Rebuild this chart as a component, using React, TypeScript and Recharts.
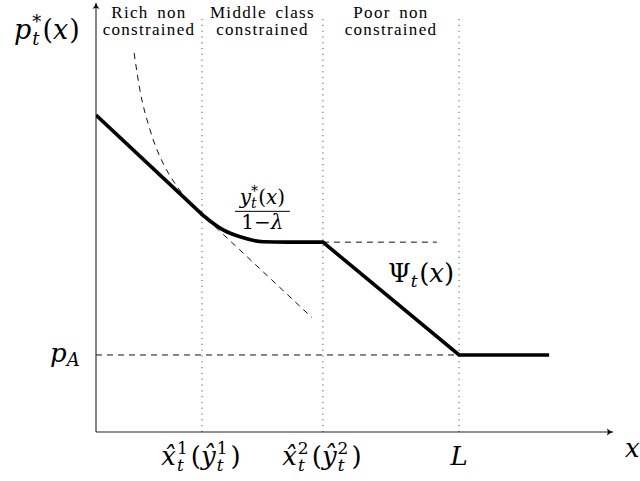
import {
  ComposedChart,
  Line,
  XAxis,
  YAxis,
  ReferenceLine,
  ReferenceDot,
} from 'recharts';

// key abscissas (L normalised to 10) and the autarky price
const x1 = 2.92;
const x2 = 6.25;
const L = 10;
const pA = 2;
const xMax = 14.24;
const yMax = 11.14;
const topOfDots = 10.83;

const richX = [0, 2.92];
const richY = [8.23, 5.65];
const midX = [2.92, 3.14, 3.5, 3.97, 4.6, 5.26, 6.25];
const midY = [5.65, 5.48, 5.25, 5.07, 4.94, 4.93, 4.93];
const poorX = [6.25, 10, 12.48];
const poorY = [4.93, 2, 2];

// dashed y*_t(x)/(1-lambda) branch above the rich segment
const demandX = [1.05, 1.21, 1.49, 1.9, 2.15, 2.59, 2.92];
const demandY = [9.84, 8.88, 7.84, 6.88, 6.49, 5.95, 5.65];

// dashed continuation of the rich segment
const tangentX = [3.28, 5.95];
const tangentY = [5.33, 2.97];

// dashed flat level continued from x2
const flatX = [x2, 9.39];

// where the two math labels sit
const fracAt = { x: 4.57, y: 5.73 };
const psiAt = { x: L, y: 3.9 };

const regionTop = ['Rich non', 'Middle class', 'Poor non'];
const regionBottom = ['constrained', 'constrained', 'constrained'];
const regionBounds = [0, x1, x2, L];

const zip = (xs: number[], ys: number[]) => xs.map((x, i) => ({ x, y: ys[i] }));

const MATH = '"DejaVu Serif", serif';
const ROMAN = '"Liberation Serif", serif';
const BIG = 26;
const SMALL = 17;

function XTick(props: any) {
  const { x, y, payload } = props;
  const v = payload.value;
  if (v === L) {
    return (
      <text x={x} y={y + 33} fontSize={BIG} fontFamily={MATH} fontStyle="italic" textAnchor="middle">
        L
      </text>
    );
  }
  const n = v === x1 ? '1' : '2';
  return (
    <text x={x - 1} y={y + 33} fontSize={BIG} fontFamily={MATH} textAnchor="middle">
      <tspan fontStyle="italic">x̂</tspan>
      <tspan fontSize={SMALL} dx={1} dy={-11}>{n}</tspan>
      <tspan fontSize={SMALL} fontStyle="italic" dx={-10.8} dy={17}>t</tspan>
      <tspan dx={7} dy={-6}>(</tspan>
      <tspan fontStyle="italic">ŷ</tspan>
      <tspan fontSize={SMALL} dx={1} dy={-11}>{n}</tspan>
      <tspan fontSize={SMALL} fontStyle="italic" dx={-10.8} dy={17}>t</tspan>
      <tspan dx={7} dy={-6}>)</tspan>
    </text>
  );
}

function YTick(props: any) {
  const { x, y } = props;
  return (
    <text x={x - 46} y={y + 7} fontSize={BIG} fontFamily={MATH}>
      <tspan fontStyle="italic">p</tspan>
      <tspan fontSize={18} fontStyle="italic" dy={4}>A</tspan>
    </text>
  );
}

function Arrow({ cx, cy, up }: { cx: number; cy: number; up?: boolean }) {
  const d = `M-6,-3.6 Q-2.5,-0.8 0,0 Q-2.5,0.8 -6,3.6 Q-4.2,0 -6,-3.6 Z`;
  return <path d={d} transform={`translate(${cx},${cy}) rotate(${up ? -90 : 0})`} fill="#111" />;
}

const dashed = { stroke: '#111', strokeWidth: 1, strokeDasharray: '6 5' };

export default function App() {
  return (
    <div style={{ position: 'absolute', left: 0, top: 0, background: '#fff' }}>
      <ComposedChart width={640} height={481} margin={{ top: 3, right: 27, left: 0, bottom: 0 }}>
        <XAxis
          type="number"
          dataKey="x"
          domain={[0, xMax]}
          ticks={[x1, x2, L]}
          interval={0}
          allowDataOverflow
          axisLine={false}
          tickLine={false}
          tickSize={0}
          tickMargin={0}
          height={49}
          tick={<XTick />}
        />
        <YAxis
          type="number"
          domain={[0, yMax]}
          ticks={[pA]}
          allowDataOverflow
          axisLine={false}
          tickLine={false}
          tickSize={0}
          tickMargin={0}
          width={96}
          tick={<YTick />}
        />

        {[x1, x2, L].map((v) => (
          <ReferenceLine
            key={v}
            segment={[{ x: v, y: 0 }, { x: v, y: topOfDots }]}
            stroke="#555"
            strokeWidth={1}
            strokeDasharray="1.2 4.6"
            ifOverflow="visible"
          />
        ))}
        <ReferenceLine segment={[{ x: 0, y: pA }, { x: L, y: pA }]} {...dashed} ifOverflow="visible" />
        <ReferenceLine
          segment={[{ x: flatX[0], y: poorY[0] }, { x: flatX[1], y: poorY[0] }]}
          {...dashed}
          ifOverflow="visible"
        />
        <ReferenceLine segment={[{ x: 0, y: 0 }, { x: xMax, y: 0 }]} stroke="#222" strokeWidth={1.1} ifOverflow="visible" />
        <ReferenceLine segment={[{ x: 0, y: 0 }, { x: 0, y: yMax }]} stroke="#222" strokeWidth={1.1} ifOverflow="visible" />

        <Line
          data={zip(demandX, demandY)}
          dataKey="y"
          type="monotone"
          {...dashed}
          dot={false}
          activeDot={false}
          isAnimationActive={false}
        />
        <Line
          data={zip(tangentX, tangentY)}
          dataKey="y"
          type="linear"
          {...dashed}
          dot={false}
          activeDot={false}
          isAnimationActive={false}
        />
        <Line
          data={zip(richX, richY)}
          dataKey="y"
          type="linear"
          stroke="#000"
          strokeWidth={3.6}
          dot={false}
          activeDot={false}
          isAnimationActive={false}
        />
        <Line
          data={zip(midX, midY)}
          dataKey="y"
          type="monotone"
          stroke="#000"
          strokeWidth={3.6}
          strokeLinecap="round"
          dot={false}
          activeDot={false}
          isAnimationActive={false}
        />
        <Line
          data={zip(poorX, poorY)}
          dataKey="y"
          type="linear"
          stroke="#000"
          strokeWidth={3.6}
          dot={false}
          activeDot={false}
          isAnimationActive={false}
        />

        <ReferenceDot x={xMax} y={0} r={0} ifOverflow="visible" shape={(p: any) => <Arrow cx={p.cx} cy={p.cy} />} />
        <ReferenceDot x={0} y={yMax} r={0} ifOverflow="visible" shape={(p: any) => <Arrow cx={p.cx} cy={p.cy} up />} />

        {/* axis names */}
        <ReferenceDot
          x={0}
          y={yMax}
          r={0}
          ifOverflow="visible"
          shape={(p: any) => (
            <text x={p.cx - 82} y={p.cy + 36} fontSize={27} fontFamily={MATH}>
              <tspan fontStyle="italic">p</tspan>
              <tspan fontSize={18} dx={1} dy={-11}>*</tspan>
              <tspan fontSize={18} fontStyle="italic" dx={-9} dy={17}>t</tspan>
              <tspan dx={3} dy={-6}>(</tspan>
              <tspan fontStyle="italic">x</tspan>
              <tspan dx={1}>)</tspan>
            </text>
          )}
        />
        <ReferenceDot
          x={xMax}
          y={0}
          r={0}
          ifOverflow="visible"
          shape={(p: any) => (
            <text x={p.cx + 12} y={p.cy + 25} fontSize={BIG} fontFamily={MATH} fontStyle="italic">
              x
            </text>
          )}
        />

        {/* region headings */}
        {regionTop.map((t, i) => (
          <ReferenceDot
            key={t}
            x={(regionBounds[i] + regionBounds[i + 1]) / 2}
            y={yMax}
            r={0}
            ifOverflow="visible"
            shape={(p: any) => (
              <g fontFamily={ROMAN} fontSize={17} letterSpacing={1.3} textAnchor="middle" fill="#000">
                <text x={p.cx} y={p.cy + 14.5} wordSpacing={3}>{t}</text>
                <text x={p.cx} y={p.cy + 32}>{regionBottom[i]}</text>
              </g>
            )}
          />
        ))}

        {/* y*_t(x) / (1 - lambda) */}
        <ReferenceDot
          x={fracAt.x}
          y={fracAt.y}
          r={0}
          ifOverflow="visible"
          shape={(p: any) => (
            <g fontFamily={MATH} fontSize={20}>
              <text x={p.cx + 0.5} y={p.cy - 7} textAnchor="middle">
                <tspan fontStyle="italic">y</tspan>
                <tspan fontSize={14} dy={-8}>*</tspan>
                <tspan fontSize={14} fontStyle="italic" dx={-7} dy={12}>t</tspan>
                <tspan dx={1.5} dy={-4}>(</tspan>
                <tspan fontStyle="italic">x</tspan>
                <tspan>)</tspan>
              </text>
              <line x1={p.cx - 27} x2={p.cx + 28} y1={p.cy} y2={p.cy} stroke="#000" strokeWidth={1} />
              <text x={p.cx + 0.5} y={p.cy + 18} textAnchor="middle">
                1−<tspan fontStyle="italic">λ</tspan>
              </text>
            </g>
          )}
        />

        {/* Psi_t(x) */}
        <ReferenceDot
          x={psiAt.x}
          y={psiAt.y}
          r={0}
          ifOverflow="visible"
          shape={(p: any) => (
            <text x={p.cx - 71} y={p.cy} fontSize={BIG} fontFamily={MATH}>
              <tspan>Ψ</tspan>
              <tspan fontSize={SMALL} fontStyle="italic" dy={5}>t</tspan>
              <tspan dx={1.5} dy={-5}>(</tspan>
              <tspan fontStyle="italic">x</tspan>
              <tspan>)</tspan>
            </text>
          )}
        />
      </ComposedChart>
    </div>
  );
}
